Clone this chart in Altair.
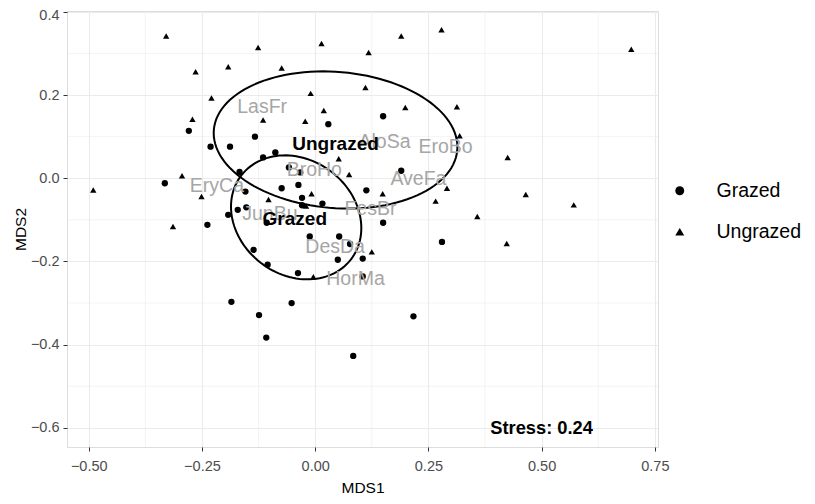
import altair as alt
import pandas as pd
import numpy as np

# ---- site scores (MDS1, MDS2) ----
grazed_x = [-0.279, -0.133, -0.231, -0.188, 0.029, -0.332, -0.088, -0.115, -0.058, -0.033,
            -0.167, -0.154, -0.074, -0.037, -0.029, 0.150, 0.190, 0.113, 0.016, 0.150,
            0.280, 0.053, 0.077, 0.050, 0.105, 0.105, 0.217, 0.084, -0.192, -0.171,
            -0.152, -0.107, -0.238, -0.012, -0.136, -0.105, -0.038, -0.185, -0.124, -0.052,
            -0.108, -0.029]
grazed_y = [0.114, 0.100, 0.076, 0.076, 0.130, -0.012, 0.062, 0.050, 0.026, 0.014,
            0.015, -0.032, -0.024, -0.016, -0.047, 0.149, 0.018, -0.029, -0.061, -0.107,
            -0.153, -0.140, -0.158, -0.196, -0.193, -0.236, -0.332, -0.427, -0.088, -0.076,
            -0.070, -0.107, -0.112, -0.140, -0.172, -0.208, -0.228, -0.297, -0.329, -0.300,
            -0.383, -0.065]

ungrazed_x = [-0.329, -0.126, 0.014, -0.264, -0.192, -0.074, -0.229, -0.010, -0.271, -0.115,
              -0.022, 0.019, -0.294, -0.490, -0.251, -0.008, -0.103, 0.190, 0.279, 0.118,
              0.698, 0.111, 0.199, 0.313, 0.319, 0.425, 0.052, 0.075, 0.291, 0.149,
              0.465, 0.266, 0.571, 0.358, 0.423, 0.125, -0.314, -0.004, -0.020]
ungrazed_y = [0.342, 0.314, 0.324, 0.256, 0.268, 0.265, 0.193, 0.204, 0.142, 0.140,
              0.137, 0.163, 0.006, -0.028, -0.044, -0.037, -0.051, 0.342, 0.357, 0.302,
              0.310, 0.218, 0.170, 0.172, 0.102, 0.050, 0.047, 0.009, -0.024, -0.037,
              -0.039, -0.055, -0.064, -0.092, -0.157, -0.177, -0.116, -0.237, -0.067]

# ---- species scores ----
species = ["LasFr", "AloSa", "EroBo", "AveFa", "BroHo", "EryCa", "JunBu", "FesBr", "DesDa", "HorMa"]
species_x = [-0.117, 0.153, 0.288, 0.228, -0.002, -0.217, -0.100, 0.122, 0.044, 0.089]
species_y = [0.172, 0.086, 0.074, -0.001, 0.021, -0.018, -0.085, -0.073, -0.165, -0.243]

# ---- group ellipses (centre + covariance) ----
groups = ["Grazed", "Ungrazed"]
ell_cx = [-0.042, 0.045]
ell_cy = [-0.094, 0.092]
ell_sxx = [0.0207, 0.0724]
ell_syy = [0.0222, 0.0272]
ell_sxy = [-0.0037, -0.0045]
label_x = [-0.045, 0.045]
label_y = [-0.097, 0.083]

stress_text = ["Stress: 0.24"]
stress_x = [0.50]
stress_y = [-0.603]

x_ticks = [-0.50, -0.25, 0.00, 0.25, 0.50, 0.75]
y_ticks = [-0.6, -0.4, -0.2, 0.0, 0.2, 0.4]
x_minor = [-0.375, -0.125, 0.125, 0.375, 0.625]
y_minor = [-0.5, -0.3, -0.1, 0.1, 0.3]
x_domain = [-0.548, 0.757]
y_domain = [-0.646, 0.402]

# ---- build tables ----
pts = pd.DataFrame({
    "MDS1": grazed_x + ungrazed_x,
    "MDS2": grazed_y + ungrazed_y,
    "Management": ["Grazed"] * len(grazed_x) + ["Ungrazed"] * len(ungrazed_x),
})

rows = []
t = np.linspace(0, 2 * np.pi, 121)
for g, cx, cy, sxx, syy, sxy in zip(groups, ell_cx, ell_cy, ell_sxx, ell_syy, ell_sxy):
    l00 = np.sqrt(sxx)
    l10 = sxy / l00
    l11 = np.sqrt(syy - l10 ** 2)
    for i, tt in enumerate(t):
        rows.append({"g": g, "i": i,
                     "x": cx + l00 * np.cos(tt),
                     "y": cy + l10 * np.cos(tt) + l11 * np.sin(tt)})
ell = pd.DataFrame(rows)

spec = pd.DataFrame({"sp": species, "x": species_x, "y": species_y})
grp = pd.DataFrame({"g": groups, "x": label_x, "y": label_y})
stress = pd.DataFrame({"t": stress_text, "x": stress_x, "y": stress_y})

FONT = "Liberation Sans"

xscale = alt.Scale(domain=x_domain, nice=False, zero=False)
yscale = alt.Scale(domain=y_domain, nice=False, zero=False)

xaxis = alt.Axis(values=x_ticks, format=".2f", title="MDS1", grid=True,
                 gridColor="#EBEBEB", gridWidth=1.1, domain=False,
                 tickColor="#333333", tickSize=4, labelColor="#4D4D4D",
                 labelFontSize=14.5, labelFont=FONT, labelPadding=8,
                 titleFont=FONT, titleFontSize=15.5, titleFontWeight="normal",
                 titleColor="#000000", titlePadding=8)
yaxis = alt.Axis(values=y_ticks, format=".1f", title="MDS2", grid=True,
                 gridColor="#EBEBEB", gridWidth=1.1, domain=False,
                 tickColor="#333333", tickSize=4, labelColor="#4D4D4D",
                 labelFontSize=14.5, labelFont=FONT, labelPadding=4,
                 labelOffset={"condition": {"test": "datum.value > 0.39", "value": 4}, "value": 0},
                 titleFont=FONT, titleFontSize=15.5, titleFontWeight="normal",
                 titleColor="#000000", titlePadding=2)

vmin = alt.Chart(pd.DataFrame({"v": x_minor})).mark_rule(
    color="#EBEBEB", strokeWidth=0.6).encode(x=alt.X("v:Q", scale=xscale, axis=xaxis))
hmin = alt.Chart(pd.DataFrame({"v": y_minor})).mark_rule(
    color="#EBEBEB", strokeWidth=0.6).encode(y=alt.Y("v:Q", scale=yscale, axis=yaxis))

points = alt.Chart(pts).mark_point(filled=True, color="black", opacity=1, size=40).encode(
    x=alt.X("MDS1:Q", scale=xscale, axis=xaxis),
    y=alt.Y("MDS2:Q", scale=yscale, axis=yaxis),
    shape=alt.Shape("Management:N",
                    scale=alt.Scale(domain=groups, range=["circle", "triangle-up"]),
                    legend=alt.Legend(title=None, orient="none", legendX=603, legendY=170,
                                      labelFont=FONT, labelFontSize=19.5, labelColor="#000000",
                                      symbolSize=80, symbolFillColor="black",
                                      symbolStrokeColor="black", labelOffset=27,
                                      rowPadding=20, symbolType="circle")),
)

ellipses = alt.Chart(ell).mark_line(color="black", strokeWidth=2).encode(
    x=alt.X("x:Q", scale=xscale), y=alt.Y("y:Q", scale=yscale),
    detail="g:N", order="i:Q")

spec_text = alt.Chart(spec).mark_text(font=FONT, fontSize=19.5, color="#A6A6A6").encode(
    x=alt.X("x:Q", scale=xscale), y=alt.Y("y:Q", scale=yscale), text="sp:N")

grp_text = alt.Chart(grp).mark_text(font=FONT, fontSize=19, fontWeight="bold",
                                    color="black").encode(
    x=alt.X("x:Q", scale=xscale), y=alt.Y("y:Q", scale=yscale), text="g:N")

stress_mark = alt.Chart(stress).mark_text(font=FONT, fontSize=18.3, fontWeight="bold",
                                          color="black").encode(
    x=alt.X("x:Q", scale=xscale), y=alt.Y("y:Q", scale=yscale), text="t:N")

chart = alt.layer(vmin, hmin, points, ellipses, spec_text, grp_text, stress_mark).properties(
    width=591, height=436,
    autosize=alt.AutoSizeParams(type="none"),
    padding={"left": 59, "top": 3, "right": 149, "bottom": 49},
).configure_view(stroke="#444444", strokeWidth=1.3, strokeOpacity=1).configure(background="white")

chart.save("out.html", embed_options={"renderer": "svg", "actions": False})
